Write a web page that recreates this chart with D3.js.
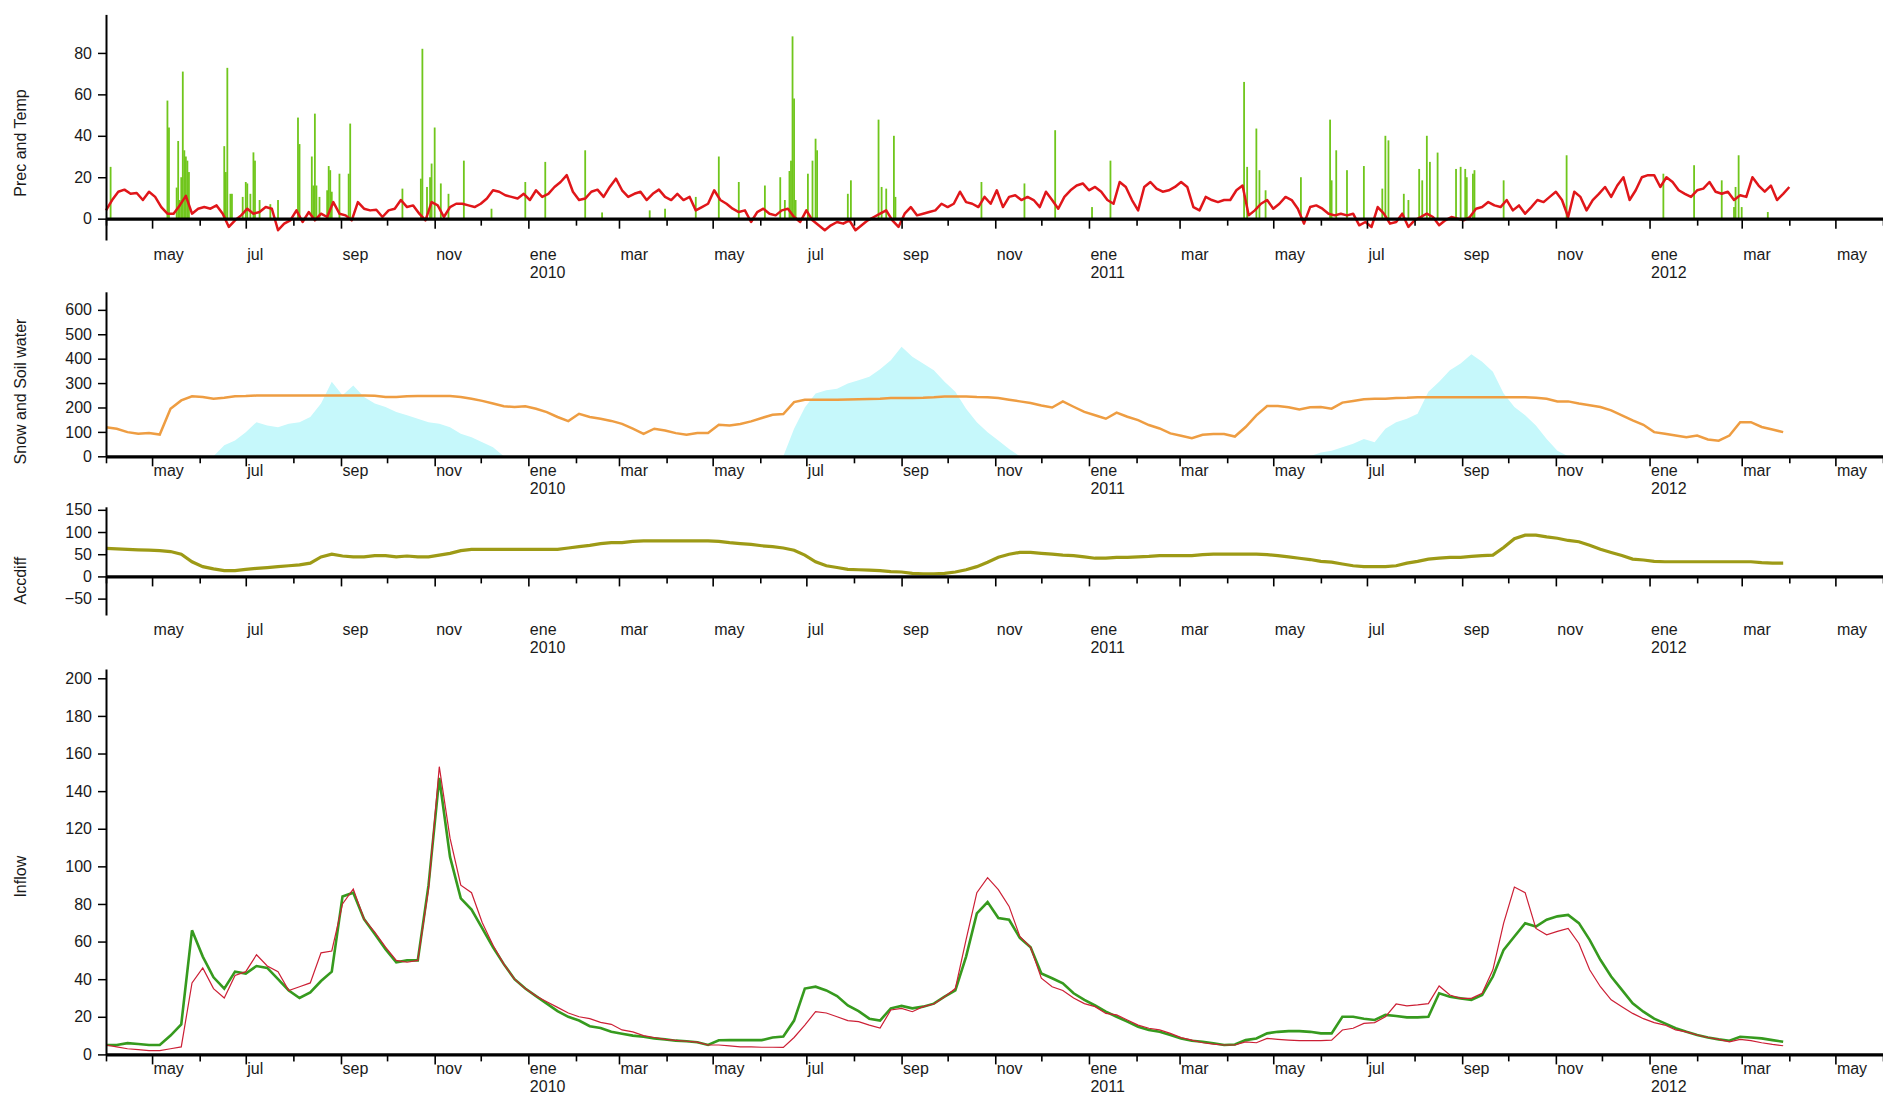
<!DOCTYPE html>
<html>
<head>
<meta charset="utf-8">
<script src="https://cdn.jsdelivr.net/npm/d3@7"></script>
<style>
  html, body { margin: 0; padding: 0; background: #ffffff; }
  svg { display: block; font-family: "Liberation Sans", Arial, sans-serif; }
</style>
</head>
<body>
<svg id="chart" width="1883" height="1096"></svg>
<script>
// ---------------- DATA ----------------
const seriesStart = "2009-04-01";
const axisStart = "2009-04-01";
const axisEnd = "2012-06-01";
const monthNames = ["ene","feb","mar","abr","may","jun","jul","ago","sep","oct","nov","dic"];

const panelTitles = ["Prec and Temp", "Snow and Soil water", "Accdiff", "Inflow"];
const ticksPrec = [0, 20, 40, 60, 80];
const ticksSnow = [0, 100, 200, 300, 400, 500, 600];
const ticksAcc = [-50, 0, 50, 100, 150];
const ticksInflow = [0, 20, 40, 60, 80, 100, 120, 140, 160, 180, 200];

// temperature, one value every 4 days from 2009-04-01
const tempStepDays = 4;
const temperature = [4,9,13,14,12,12.4,9,13,10.5,5.6,2.4,2.4,6.4,11,2.4,4.8,5.6,4.8,6.4,2.4,-4,-0.8,1.6,4.8,2.4,3.2,5.6,4.8,-5.6,-2.4,-0.8,4,-1.6,3.2,-0.8,2.4,0.8,8,2.4,1.6,-0.8,8,4.8,4,4.3,0.8,4,4.8,9,5.6,6.4,2.4,-0.8,8,6.4,0.8,5.6,7.2,7.2,6.4,5.6,7.2,9.7,13.7,13,11.3,10.5,9.7,12,9,13.7,10.5,12,15.3,17.7,21,13,9,9.7,13,14,
10.5,15.3,19.3,13.7,10.5,12,13,9,12,14,10.5,9,12,9,10.5,4,5.6,7.2,13.7,9,7.2,4.8,3.2,4,-1.6,3.2,4.8,2.4,1.6,4,4.8,0.8,-1.6,4,-0.8,-3.2,-5.6,-3.2,-1.6,-2.4,-0.8,-5.6,-3.2,-0.8,0.8,2.4,4,-0.8,-4,2.4,5.6,1.6,2.4,3.2,4,7.2,5.6,7.2,13,8,7.2,5.6,10.5,7.2,13.7,5.6,10.5,11.3,9,10.5,9,5.6,13,9,4.8,10.5,13.7,16,17,13.7,15.3,13,9,7.2,17.7,15.3,9,4,15.3,17.7,14.5,13,13.7,15.3,17.7,15.3,5.6,4,10.5,9,8,9,9,13.7,16,1.6,
4,7.2,9,4.8,7.2,10.5,9,4.8,-2.4,5.6,6.4,4.8,2.4,1.6,2.4,1.6,2.4,-3.2,-1.6,-4,5.6,2.4,-2.4,-1.6,2.4,-4,-0.8,0.8,2.4,0.8,-3.2,-0.8,0.8,0,-0.8,0.8,4.8,5.6,8,6.4,5.6,9,4,6.4,2.4,5.6,9,8,10.5,13,9,0.8,13,10.5,4,9,12,15.3,10.5,16,20,9,13.7,20,21,21,15.3,20,17.7,13.7,12,10.5,13.7,14.5,17.7,13,12,13,9,11.3,10.5,20,16,13,16,9,12,15.3];

// precipitation: day number since 2009-04-01 and amount
const precipDay = [3,40,41,46,47,48,49,50,51,52,53,54,77,78,79,81,82,89,91,92,94,96,97,100,107,112,125,126,134,135,136,137,139,144,145,146,147,152,158,159,193,205,206,209,211,212,214,218,223,233,251,273,286,312,323,354,364,384,399,412,429,439,442,445,446,447,448,449,457,460,462,463,483,485,503,505,508,513,514,570,598,618,642,654,741,743,749,751,755,778,797,798,801,808,819,831,833,835,845,848,855,857,860,862,867,879,882,885,886,890,891,910,951,1014,1034,1052,1060,1061,1063,1065,1082];
const precipValue = [25,57,44,15,37.5,9,20,71,33,30,28,22.5,35,22.5,72.8,12,12,10.5,17.7,17,12,32,28,9,7,9,48.8,36,30,16,50.7,16,10.5,13.7,25.4,23.4,13,21.7,21.7,45.9,14.5,19.3,82,15.3,20,26.6,44,17,12,28,4.8,17.7,27.4,33,3,4,4.8,10.5,30,17.7,16,20,9,23,28,88,58,9,21.7,28,38.6,33,12,18.5,47.8,15.3,14.5,40,10.5,17.7,17,42.7,5.6,28,66,25,43.5,23.4,13.7,20,47.8,18.5,33,23.4,25.4,14.5,40,37.8,12,9,24,18.5,40,27.4,31.9,24,25,24,20,21.7,23.4,18.5,30.6,21.7,25.8,18.5,5.6,15.3,30.6,5.6,3.2];

// weekly series, one value every 7 days from 2009-04-01
const weekStepDays = 7;
const soilWater = [119,113,99,92,95,89,195,229,246,243,236,240,246,247,249,249,249,249,249,249,249,249,249,249,249,248,243,243,246,247,247,247,247,243,236,227,216,205,202,205,195,181,161,144,174,161,154,145,133,113,92,113,106,95,88,95,95,129,126,132,143,157,170,173,222,232,232,232,232,233,234,235,236,239,239,239,240,242,245,245,245,243,242,239,232,225,218,208,200,225,203,182,168,154,179,162,148,128,114,94,84,74,88,91,91,81,120,168,206,206,201,192,201,202,195,220,227,234,236,236,239,240,242,242,242,242,242,242,242,242,242,242,242,240,236,225,225,216,209,202,188,168,147,129,99,92,85,78,85,69,64,85,140,140,120,110,99];
const snow = [0,0,0,0,0,0,0,0,0,0,0,45,65,99,140,126,119,133,140,161,216,305,250,290,243,216,202,181,168,154,140,133,119,92,78,58,37,0,0,0,0,0,0,0,0,0,0,0,0,0,0,0,0,0,0,0,0,0,0,0,0,0,0,0,113,200,257,271,277,298,312,326,357,394,449,408,380,353,305,264,195,140,99,65,30,0,0,0,0,0,0,0,0,0,0,0,0,0,0,0,0,0,0,0,0,0,0,0,0,0,0,0,0,16,23,37,51,71,58,113,140,154,174,264,305,353,380,418,387,346,257,202,168,126,71,23,0,0,0,0,0,0,0,0,0,0,0,0,0,0,0,0,0,0,0,0];
const accdiff = [63,62,61,60,59,58,56,50,33,22,17,13,13,16,18,20,22,24,26,30,44,50,46,44,44,47,47,44,46,44,44,48,52,58,61,61,61,61,61,61,61,61,61,64,67,70,74,76,76,79,80,80,80,80,80,80,80,79,76,74,72,69,67,64,59,48,33,24,20,16,15,14,13,11,10,7,6,6,7,10,15,22,32,43,50,54,54,52,50,48,47,44,41,41,43,43,44,45,47,47,47,47,49,50,50,50,50,50,49,47,44,41,38,34,32,28,24,22,22,22,24,30,34,39,41,43,43,45,47,48,65,85,93,93,89,86,81,78,70,61,54,47,39,37,34,33,33,33,33,33,33,33,33,33,31,30,30];
const inflowSim = [5,5,6,5.5,5,5,10,16,66,52,41,35,44,43,47,46,40,34,30,33,39,44,84,86,72,64,56,49,50,50,90,147,105,83,77,67,57,48,40,35,31,27,23,20,18,15,14,12,11,10,9.4,8.5,8,7.3,7,6.5,5,7.5,7.6,7.6,7.6,7.6,9,9.5,18,35,36,34,31,26,23,19,18,24.5,25.8,24.5,25.4,27,30.7,34,52,75,81,72.5,71.6,62,57,43,40.5,37.8,32.5,29,26,22.7,20,17.4,14.7,13,12,10.3,8.5,7.3,6.7,5.9,5,5.3,7.6,8.5,11.2,12,12.4,12.4,12,11.2,11.2,20,20,19,18.3,21,20.4,19.7,19.7,20,32.5,30.7,29.8,29,31.6,41.4,55.6,62.7,69.8,68,71.6,73.4,74.2,69.8,60.9,50.3,41.4,34.3,27.2,22.7,19,16.5,13.9,12,10.3,9,8,7.3,9.4,9,8.5,7.6,6.7];
const inflowObs = [5,4,3,2.5,2,2,3,4,38,46,35,30,42,44,53,47,44,34,36,38,54,55,80,88,72,65,57,50,49,50,88,153,115,90,86,70,58,48,40,35,31,28,25,22,20,19,17,16,13,12,10,9,8,7.5,7,6.5,5,5,4.5,4,4,3.8,3.8,3.7,9,15.6,22.7,22,20,18,17.4,15.6,14,23.6,24.5,22.7,25.4,26.8,30.7,35,61,86,94,87.6,78.7,62.7,57,40.5,36,34,30,27,25.4,21.8,21,18.3,15.6,13.9,13,11.2,8.9,7.6,6.2,5.5,5,5,6.7,6.2,8.5,8,7.6,7.3,7.3,7.3,7.6,13,13.9,16.5,16.9,20,26.8,25.8,26.3,27,36.4,31.6,29.8,29.8,32.5,45,69.8,89,86,67,63.6,65.4,67,59,45,36,29,25.4,21.8,19,16.9,15.6,13,12,10.3,9,8,6.7,8,7.3,6.2,5.3,4.6];

// ---------------- CHART ----------------
const svg = d3.select("#chart");
svg.append("rect").attr("width", 1883).attr("height", 1096).attr("fill", "#ffffff");

const parse = d3.utcParse("%Y-%m-%d");
const t0 = parse(seriesStart);
const x = d3.scaleUtc().domain([parse(axisStart), parse(axisEnd)]).range([106, 1883]);
const dateAt = (i, step) => d3.utcDay.offset(t0, i * step);

const panels = [
  { title: panelTitles[0], domain: [-10.3, 98.6], range: [240, 14.4], ticks: ticksPrec, titleY: 143 },
  { title: panelTitles[1], domain: [0, 674], range: [456.3, 291.8], ticks: ticksSnow, titleY: 391.5 },
  { title: panelTitles[2], domain: [-86.9, 156.8], range: [615, 506.8], ticks: ticksAcc, titleY: 580.6 },
  { title: panelTitles[3], domain: [0, 205], range: [1054.4, 668.9], ticks: ticksInflow, titleY: 876.7 }
];
panels.forEach(p => { p.y = d3.scaleLinear().domain(p.domain).range(p.range); p.g = svg.append("g"); });

// Panel 1: precipitation bars + temperature
{
  const p = panels[0];
  const bw = Math.max(1.8, x(d3.utcDay.offset(t0, 1)) - x(t0));
  p.g.selectAll("rect.prec").data(precipDay.map((d, i) => ({ d, v: precipValue[i] })))
    .join("rect").attr("class", "prec")
    .attr("x", d => x(d3.utcDay.offset(t0, d.d)) - bw / 2)
    .attr("width", bw)
    .attr("y", d => p.y(d.v))
    .attr("height", d => p.y(0) - p.y(d.v))
    .attr("fill", "#70c61c");
  const line = d3.line().x((d, i) => x(dateAt(i, tempStepDays))).y(d => p.y(d));
  p.g.append("path").datum(temperature).attr("d", line)
    .attr("fill", "none").attr("stroke", "#e0161a").attr("stroke-width", 2.5).attr("stroke-linejoin", "round");
}
// Panel 2: snow area + soil water
{
  const p = panels[1];
  const area = d3.area().x((d, i) => x(dateAt(i, weekStepDays))).y0(p.y(0)).y1(d => p.y(d));
  p.g.append("path").datum(snow).attr("d", area).attr("fill", "#c6f8fb");
  const line = d3.line().x((d, i) => x(dateAt(i, weekStepDays))).y(d => p.y(d));
  p.g.append("path").datum(soilWater).attr("d", line)
    .attr("fill", "none").attr("stroke", "#ee9d42").attr("stroke-width", 2.5);
}
// Panel 3: accdiff
{
  const p = panels[2];
  const line = d3.line().x((d, i) => x(dateAt(i, weekStepDays))).y(d => p.y(d));
  p.g.append("path").datum(accdiff).attr("d", line)
    .attr("fill", "none").attr("stroke", "#9d9a16").attr("stroke-width", 3.2);
}
// Panel 4: inflow
{
  const p = panels[3];
  const line = d3.line().x((d, i) => x(dateAt(i, weekStepDays))).y(d => p.y(d));
  p.g.append("path").datum(inflowSim).attr("d", line)
    .attr("fill", "none").attr("stroke", "#369a1e").attr("stroke-width", 2.6);
  p.g.append("path").datum(inflowObs).attr("d", line)
    .attr("fill", "none").attr("stroke", "#cc1f35").attr("stroke-width", 1.2);
}

// Axes
const months = d3.utcMonth.range(parse(axisStart), d3.utcDay.offset(parse(axisEnd), 1));
panels.forEach(p => {
  const bottom = p.range[0];
  // y axis
  const ya = p.g.append("g").attr("transform", "translate(106,0)")
    .call(d3.axisLeft(p.y).tickValues(p.ticks).tickSize(8).tickSizeOuter(0).tickPadding(6).tickFormat(d3.format("d")));
  ya.select(".domain").attr("stroke", "#000").attr("stroke-width", 2);
  ya.selectAll(".tick line").attr("stroke", "#000").attr("stroke-width", 1.5);
  ya.selectAll(".tick text").attr("font-size", 16).attr("fill", "#1a1a1a").attr("font-family", "Liberation Sans, Arial, sans-serif");

  // zero line with month ticks
  const xa = p.g.append("g").attr("transform", `translate(0,${p.y(0)})`)
    .call(d3.axisBottom(x).tickValues(months).tickSize(8).tickSizeOuter(0).tickFormat(""));
  xa.select(".domain").attr("stroke", "#000").attr("stroke-width", 3.2);
  xa.selectAll(".tick line").attr("stroke", "#000").attr("stroke-width", 1.6)
    .attr("y2", d => d.getUTCMonth() % 2 === 0 ? 10 : 7);

  // month labels below plot area
  const lab = p.g.append("g").attr("transform", `translate(0,${bottom})`)
    .call(d3.axisBottom(x).tickValues(months.filter(m => m.getUTCMonth() % 2 === 0))
      .tickSize(0).tickFormat(d => monthNames[d.getUTCMonth()]));
  lab.select(".domain").remove();
  lab.selectAll(".tick text")
    .attr("text-anchor", "start").attr("x", 1).attr("y", 20).attr("dy", 0)
    .attr("font-size", 16).attr("fill", "#1a1a1a").attr("font-family", "Liberation Sans, Arial, sans-serif")
    .each(function(d) {
      if (d.getUTCMonth() === 0) {
        d3.select(this).append("tspan").attr("x", 1).attr("dy", 18).text(d.getUTCFullYear());
      }
    });

  // title
  svg.append("text").attr("transform", `translate(21.6,${p.titleY}) rotate(-90)`)
    .attr("text-anchor", "middle").attr("dominant-baseline", "middle")
    .attr("font-size", 16).attr("fill", "#1a1a1a").text(p.title);
});
</script>
</body>
</html>
